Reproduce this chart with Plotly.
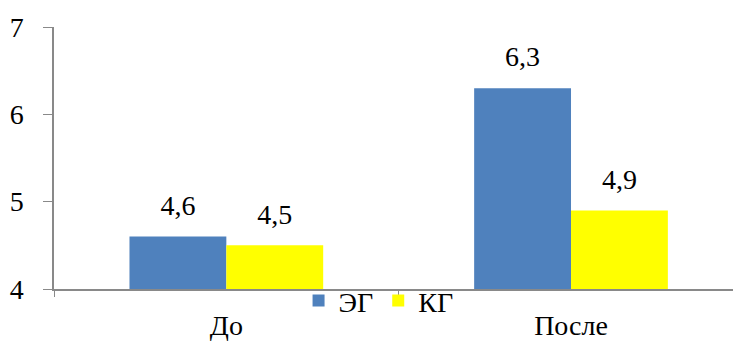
import plotly.graph_objects as go

categories = ["До", "После"]
series_names = ["ЭГ", "КГ"]
eg_values = [4.6, 6.3]
kg_values = [4.5, 4.9]
eg_labels = ["4,6", "6,3"]
kg_labels = ["4,5", "4,9"]
y_ticks = [4, 5, 6, 7]

FONT = "Liberation Serif"
FS = 28
colors = ["#4F81BD", "#FFFF00"]

fig = go.Figure()
for name, vals, labels, col, grp in [(series_names[0], eg_values, eg_labels, colors[0], "a"),
                                     (series_names[1], kg_values, kg_labels, colors[1], "b")]:
    fig.add_trace(go.Bar(x=categories, y=vals, name=name, offsetgroup=grp,
                         marker=dict(color=col, line=dict(width=0)), hoverinfo="skip"))
for name, vals, labels, col, grp in [(series_names[0], eg_values, eg_labels, colors[0], "a"),
                                     (series_names[1], kg_values, kg_labels, colors[1], "b")]:
    fig.add_trace(go.Scatter(x=categories, y=vals, mode="markers+text", text=labels,
                             offsetgroup=grp, textposition="top center", showlegend=False,
                             marker=dict(size=22, opacity=0), cliponaxis=False,
                             textfont=dict(family=FONT, size=FS, color="black")))
fig.update_layout(
    width=733, height=341,
    margin=dict(l=54, r=0, t=27, b=52, autoexpand=False),
    paper_bgcolor="white", plot_bgcolor="white",
    barmode="group", scattermode="group", bargap=0.438, bargroupgap=0,
    font=dict(family=FONT, size=FS, color="black"),
    showlegend=True,
    legend=dict(orientation="h", x=0.478, xanchor="center", y=0.05, yanchor="top",
                font=dict(family=FONT, size=FS, color="black"),
                tracegroupgap=0, bgcolor="rgba(0,0,0,0)"),
    xaxis=dict(range=[-0.5, 1.47], showline=True, linecolor="#898989", linewidth=1.5,
               ticks="outside", tickson="boundaries", ticklen=6, tickcolor="#898989",
               showgrid=False, ticklabelstandoff=11,
               tickfont=dict(family=FONT, size=FS, color="black")),
    yaxis=dict(range=[4, 7], tickvals=y_ticks, showline=True, linecolor="#898989",
               linewidth=1.5, ticks="outside", ticklen=9, tickcolor="#898989",
               showgrid=False, zeroline=False, ticklabelstandoff=14,
               tickfont=dict(family=FONT, size=FS, color="black")),
)
fig.write_html("out.html")
